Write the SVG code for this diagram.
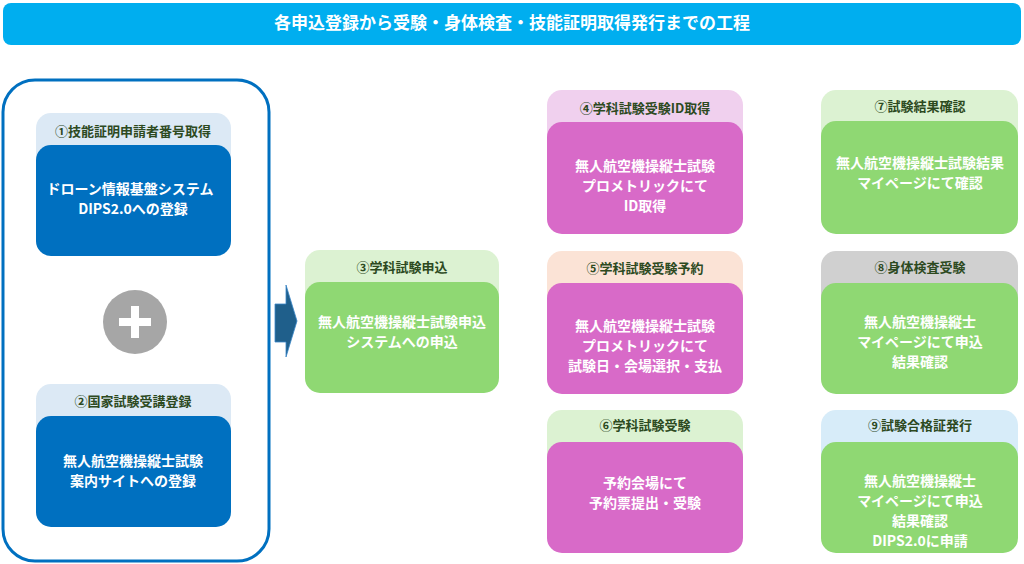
<svg xmlns="http://www.w3.org/2000/svg" width="1024" height="564" viewBox="0 0 1024 564">
<style>
text{font-family:"Noto Sans CJK JP","Noto Sans",sans-serif;font-weight:bold;text-anchor:middle}
.hl{font-size:13px;fill:#2d4a1f}
.bt{font-size:14px;fill:#fff}
.tt{font-size:17px;fill:#fff}
</style>
<rect width="1024" height="564" fill="#fff"/>
<rect x="3" y="3" width="1018" height="42" rx="8" fill="#00aeef"/>
<text class="tt" x="512" y="29">各申込登録から受験・身体検査・技能証明取得発行までの工程</text>
<rect x="3" y="80" width="266" height="481" rx="32" fill="none" stroke="#0070c0" stroke-width="3"/>
<g id="n1"><rect x="36" y="113" width="195" height="90" rx="15" fill="#dce9f5"/><text class="hl" x="133" y="136">①技能証明申請者番号取得</text><rect x="36" y="145" width="195" height="111" rx="15" fill="#0070c0"/><text class="bt" x="130" y="194">ドローン情報基盤システム</text><text class="bt" x="133" y="214">DIPS2.0への登録</text></g>
<g id="plus"><circle cx="135" cy="322" r="32" fill="#a6a6a6"/><rect x="119" y="318" width="32" height="8" fill="#fff"/><rect x="131" y="306" width="8" height="32" fill="#fff"/></g>
<g id="n2"><rect x="36" y="384" width="195" height="90" rx="15" fill="#dce9f5"/><text class="hl" x="133" y="406">②国家試験受講登録</text><rect x="36" y="416" width="195" height="111" rx="15" fill="#0070c0"/><text class="bt" x="133" y="466">無人航空機操縦士試験</text><text class="bt" x="133" y="486">案内サイトへの登録</text></g>
<g id="connectors"><path d="M275 304H286V285L297 321L286 357V342H275Z" fill="#1f5f8b" stroke="#3a86c8" stroke-width="0.8"/></g>
<g id="n3"><rect x="305" y="250" width="194" height="90" rx="15" fill="#dcf2d2"/><text class="hl" x="402" y="272">③学科試験申込</text><rect x="305" y="282" width="194" height="111" rx="15" fill="#8fd873"/><text class="bt" x="402" y="327">無人航空機操縦士試験申込</text><text class="bt" x="402" y="347">システムへの申込</text></g>
<g id="n4"><rect x="547" y="90" width="196" height="90" rx="15" fill="#f0d0ee"/><text class="hl" x="645" y="113">④学科試験受験ID取得</text><rect x="547" y="122" width="196" height="112" rx="15" fill="#d86ac8"/><text class="bt" x="645" y="171">無人航空機操縦士試験</text><text class="bt" x="645" y="191">プロメトリックにて</text><text class="bt" x="645" y="211">ID取得</text></g>
<g id="n5"><rect x="547" y="251" width="196" height="90" rx="15" fill="#fbe3d6"/><text class="hl" x="645" y="273">⑤学科試験受験予約</text><rect x="547" y="283" width="196" height="111" rx="15" fill="#d86ac8"/><text class="bt" x="645" y="331">無人航空機操縦士試験</text><text class="bt" x="645" y="351">プロメトリックにて</text><text class="bt" x="645" y="371">試験日・会場選択・支払</text></g>
<g id="n6"><rect x="547" y="410" width="196" height="90" rx="15" fill="#dcf2d2"/><text class="hl" x="645" y="430">⑥学科試験受験</text><rect x="547" y="442" width="196" height="111" rx="15" fill="#d86ac8"/><text class="bt" x="645" y="488">予約会場にて</text><text class="bt" x="645" y="508">予約票提出・受験</text></g>
<g id="n7"><rect x="821" y="90" width="197" height="90" rx="15" fill="#dcf2d2"/><text class="hl" x="920" y="111">⑦試験結果確認</text><rect x="821" y="121" width="197" height="113" rx="15" fill="#8fd873"/><text class="bt" x="920" y="168">無人航空機操縦士試験結果</text><text class="bt" x="920" y="188">マイページにて確認</text></g>
<g id="n8"><rect x="821" y="251" width="197" height="90" rx="15" fill="#d0d0d0"/><text class="hl" x="920" y="272">⑧身体検査受験</text><rect x="821" y="283" width="197" height="111" rx="15" fill="#8fd873"/><text class="bt" x="920" y="327">無人航空機操縦士</text><text class="bt" x="920" y="347">マイページにて申込</text><text class="bt" x="920" y="367">結果確認</text></g>
<g id="n9"><rect x="821" y="410" width="197" height="90" rx="15" fill="#d7ecf9"/><text class="hl" x="920" y="430">⑨試験合格証発行</text><rect x="821" y="442" width="197" height="111" rx="15" fill="#8fd873"/><text class="bt" x="920" y="486">無人航空機操縦士</text><text class="bt" x="920" y="506">マイページにて申込</text><text class="bt" x="920" y="526">結果確認</text><text class="bt" x="920" y="546">DIPS2.0に申請</text></g>
</svg>
